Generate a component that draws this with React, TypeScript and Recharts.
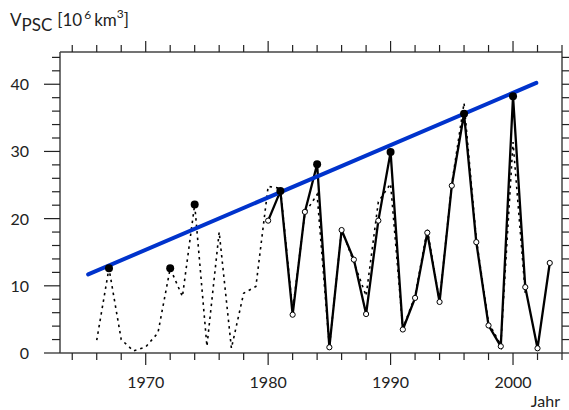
import React from 'react';
import { ComposedChart, Line, XAxis, YAxis } from 'recharts';

const dottedYears = [1966, 1967, 1968, 1969, 1970, 1971, 1972, 1973, 1974, 1975, 1976, 1977, 1978, 1979, 1980, 1981, 1982, 1983, 1984, 1985, 1986, 1987, 1988, 1989, 1990, 1991, 1992, 1993, 1994, 1995, 1996, 1997, 1998, 1999, 2000, 2001];
const dottedValues = [1.9, 12.6, 2.0, 0.3, 0.9, 3.0, 12.6, 8.4, 22.1, 1.0, 18.0, 0.7, 8.9, 9.9, 24.8, 24.5, 6.3, 20.8, 23.6, 0.9, 18.4, 13.5, 8.5, 22.5, 25.2, 3.6, 8.5, 18.4, 7.7, 25.2, 37.2, 17.0, 4.5, 1.2, 31.4, 8.9];

const solidYears = [1980, 1981, 1982, 1983, 1984, 1985, 1986, 1987, 1988, 1989, 1990, 1991, 1992, 1993, 1994, 1995, 1996, 1997, 1998, 1999, 2000, 2001, 2002, 2003];
const solidValues = [19.7, 24.1, 5.7, 21.0, 28.1, 0.85, 18.3, 13.9, 5.8, 19.7, 29.9, 3.5, 8.2, 17.9, 7.6, 24.9, 35.6, 16.5, 4.1, 1.0, 38.2, 9.8, 0.7, 13.4];

const peakYears = [1967, 1972, 1974, 1981, 1984, 1990, 1996, 2000];
const peakValues = [12.6, 12.6, 22.1, 24.1, 28.1, 29.9, 35.6, 38.2];

const trendYears = [1965.3, 2001.9];
const trendValues = [11.7, 40.2];

const xTicks = [1964, 1966, 1968, 1970, 1972, 1974, 1976, 1978, 1980, 1982, 1984, 1986, 1988, 1990, 1992, 1994, 1996, 1998, 2000, 2002, 2004];
const xLabels = [1970, 1980, 1990, 2000];
const yTicks = [0, 2, 4, 6, 8, 10, 12, 14, 16, 18, 20, 22, 24, 26, 28, 30, 32, 34, 36, 38, 40, 42, 44];
const yLabels = [0, 10, 20, 30, 40];

const xTitle = 'Jahr';

const toRows = (xs: number[], vs: number[]) => xs.map((year, i) => ({ year, v: vs[i] }));
const dottedData = toRows(dottedYears, dottedValues);
const solidData = toRows(solidYears, solidValues);
const peakData = toRows(peakYears, peakValues);
const trendData = toRows(trendYears, trendValues);

const FONT = 'Lato, "Open Sans", sans-serif';
const INK = '#222';
const FRAME = '#444';

const BottomTick = (props: any) => {
  const { x, y, payload } = props;
  const v = payload.value;
  const major = xLabels.includes(v);
  return (
    <g>
      <line x1={x} x2={x} y1={y} y2={y + (major ? 12 : 7)} stroke={INK} strokeWidth={1.2} />
      {major && (
        <text x={x} y={y + 35} textAnchor="middle" fontSize={16} fontFamily={FONT} fill={INK}>
          {v}
        </text>
      )}
    </g>
  );
};

const TopTick = (props: any) => {
  const { x, y, payload } = props;
  const major = xLabels.includes(payload.value);
  return <line x1={x} x2={x} y1={y} y2={y - (major ? 11 : 7)} stroke={INK} strokeWidth={1.2} />;
};

const LeftTick = (props: any) => {
  const { x, y, payload } = props;
  const v = payload.value;
  const major = yLabels.includes(v);
  return (
    <g>
      <line x1={x} x2={x - (major ? 16 : 8)} y1={y} y2={y} stroke={INK} strokeWidth={1.2} />
      {major && (
        <text x={x - 31} y={y + 6} textAnchor="end" fontSize={16} fontFamily={FONT} fill={INK}>
          {v}
        </text>
      )}
    </g>
  );
};

const RightTick = (props: any) => {
  const { x, y, payload } = props;
  const major = yLabels.includes(payload.value);
  return <line x1={x} x2={x + (major ? 12 : 8)} y1={y} y2={y} stroke={INK} strokeWidth={1.2} />;
};

export default function App() {
  return (
    <div style={{ position: 'absolute', left: 0, top: 0, width: 569, height: 410, background: '#fff' }}>
      <ComposedChart width={569} height={410} margin={{ top: 0, right: 0, bottom: 0, left: 0 }}>
        <XAxis
          xAxisId="b"
          dataKey="year"
          type="number"
          domain={[1963, 2004]}
          ticks={xTicks}
          interval={0}
          tickSize={0}
          tickMargin={0}
          tickLine={false}
          tick={<BottomTick />}
          axisLine={{ stroke: FRAME, strokeWidth: 1.5 }}
          height={57}
          orientation="bottom"
          allowDataOverflow
        />
        <XAxis
          xAxisId="t"
          dataKey="year"
          type="number"
          domain={[1963, 2004]}
          ticks={xTicks}
          interval={0}
          tickSize={0}
          tickMargin={0}
          tickLine={false}
          tick={<TopTick />}
          axisLine={{ stroke: FRAME, strokeWidth: 1.5 }}
          height={52}
          orientation="top"
          allowDataOverflow
        />
        <YAxis
          yAxisId="l"
          type="number"
          domain={[0, 44.8]}
          ticks={yTicks}
          interval={0}
          tickSize={0}
          tickMargin={0}
          tickLine={false}
          tick={<LeftTick />}
          axisLine={{ stroke: FRAME, strokeWidth: 1.5 }}
          width={60}
          orientation="left"
          allowDataOverflow
        />
        <YAxis
          yAxisId="r"
          type="number"
          domain={[0, 44.8]}
          ticks={yTicks}
          interval={0}
          tickSize={0}
          tickMargin={0}
          tickLine={false}
          tick={<RightTick />}
          axisLine={{ stroke: FRAME, strokeWidth: 1.5 }}
          width={7}
          orientation="right"
          allowDataOverflow
        />
        <Line
          xAxisId="b"
          yAxisId="l"
          data={dottedData}
          dataKey="v"
          type="linear"
          stroke="#000"
          strokeWidth={1.6}
          strokeDasharray="2.5 4"
          dot={false}
          activeDot={false}
          isAnimationActive={false}
        />
        <Line
          xAxisId="b"
          yAxisId="l"
          data={solidData}
          dataKey="v"
          type="linear"
          stroke="#000"
          strokeWidth={2.3}
          dot={{ r: 2.6, fill: '#fff', stroke: '#000', strokeWidth: 1 }}
          activeDot={false}
          isAnimationActive={false}
        />
        <Line
          xAxisId="b"
          yAxisId="l"
          data={trendData}
          dataKey="v"
          type="linear"
          stroke="#0033cc"
          strokeWidth={4}
          strokeLinecap="round"
          dot={false}
          activeDot={false}
          isAnimationActive={false}
        />
        <Line
          xAxisId="b"
          yAxisId="l"
          data={peakData}
          dataKey="v"
          type="linear"
          stroke="none"
          dot={{ r: 4, fill: '#000', stroke: 'none' }}
          activeDot={false}
          isAnimationActive={false}
        />
      </ComposedChart>
      <svg width={569} height={410} style={{ position: 'absolute', left: 0, top: 0, pointerEvents: 'none' }}>
        <text x={10} y={26} fontSize={17} fontFamily={FONT} fill={INK}>
          V
          <tspan dy={5}>PSC</tspan>
          <tspan dy={-5} dx={5}>[10</tspan>
          <tspan dy={-7} dx={2} fontSize={12}>6</tspan>
          <tspan dy={7} dx={3}>km</tspan>
          <tspan dy={-8} fontSize={12}>3</tspan>
          <tspan dy={8}>]</tspan>
        </text>
        <text x={560} y={407} textAnchor="end" fontSize={16} fontFamily={FONT} fill={INK}>
          {xTitle}
        </text>
      </svg>
    </div>
  );
}
